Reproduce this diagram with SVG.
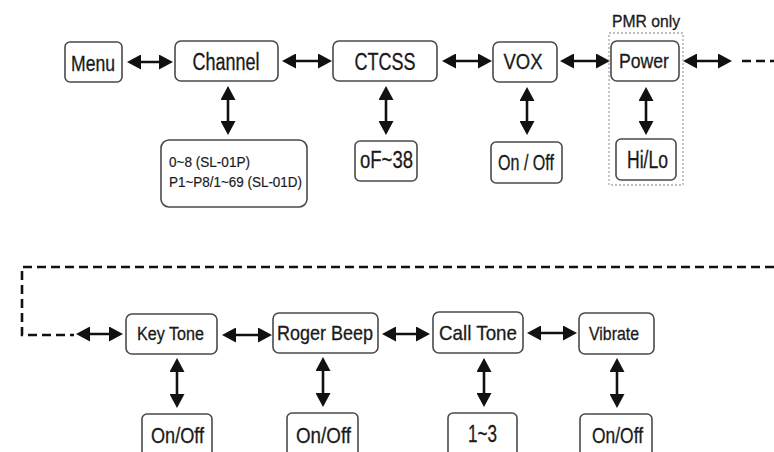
<svg xmlns="http://www.w3.org/2000/svg" width="774" height="452" viewBox="0 0 774 452">
<style>
.box{fill:#fff;stroke:#4a4a4a;stroke-width:1.6}
.t{font-family:"Liberation Sans",Arial,sans-serif;fill:#1a1a1a;text-anchor:middle;stroke:#1a1a1a;stroke-width:0.3}
.ts{font-family:"Liberation Sans",Arial,sans-serif;fill:#1a1a1a;stroke:#1a1a1a;stroke-width:0.2}
.a{stroke:#111;stroke-width:2.6;fill:none;marker-start:url(#ah);marker-end:url(#ah)}
.d{stroke:#111;stroke-width:2.6;fill:none;stroke-dasharray:9 5}
.pmr{fill:none;stroke:#aaa;stroke-width:1.3;stroke-dasharray:2 2}
</style>
<defs>
<marker id="ah" viewBox="0 0 14 15" refX="10" refY="7.5" markerWidth="14" markerHeight="15" markerUnits="userSpaceOnUse" orient="auto-start-reverse">
<path d="M0,0 L14,7.5 L0,15 Z" fill="#111"/>
</marker>
</defs>
<rect width="774" height="452" fill="#fff"/>

<g id="connectors">
<line class="a" x1="131" y1="62" x2="169" y2="62"/>
<line class="a" x1="286" y1="61" x2="328" y2="61"/>
<line class="a" x1="446" y1="61" x2="488" y2="61"/>
<line class="a" x1="564" y1="61" x2="606" y2="61"/>
<line class="a" x1="687" y1="61" x2="728" y2="61"/>
<line class="d" x1="742" y1="61" x2="774" y2="61"/>
<line class="a" x1="228" y1="90" x2="228" y2="131"/>
<line class="a" x1="386" y1="90" x2="386" y2="131"/>
<line class="a" x1="527" y1="91" x2="527" y2="131"/>
<line class="a" x1="646" y1="91" x2="646" y2="131"/>
<path class="d" d="M774,267 H22 V335 H74"/>
<line class="a" x1="80" y1="334" x2="119" y2="334"/>
<line class="a" x1="226" y1="335" x2="268" y2="335"/>
<line class="a" x1="386" y1="334" x2="426" y2="334"/>
<line class="a" x1="531" y1="333" x2="573" y2="333"/>
<line class="a" x1="177" y1="362" x2="177" y2="404"/>
<line class="a" x1="323" y1="361" x2="323" y2="403"/>
<line class="a" x1="484" y1="362" x2="484" y2="403"/>
<line class="a" x1="617" y1="362" x2="617" y2="404"/>
</g>

<g id="pmr-only">
<rect class="pmr" x="609" y="33" width="74" height="152"/>
<text class="t" x="646" y="27" font-size="17" textLength="68" lengthAdjust="spacingAndGlyphs">PMR only</text>
</g>

<g id="menu"><rect class="box" x="65" y="42" width="57" height="40" rx="5"/><text class="t" x="93" y="71" font-size="22" textLength="44" lengthAdjust="spacingAndGlyphs">Menu</text></g>
<g id="channel"><rect class="box" x="175" y="41" width="103" height="40" rx="6"/><text class="t" x="226" y="70" font-size="23" textLength="67" lengthAdjust="spacingAndGlyphs">Channel</text></g>
<g id="ctcss"><rect class="box" x="333" y="41" width="104" height="40" rx="6"/><text class="t" x="385" y="70" font-size="23" textLength="61" lengthAdjust="spacingAndGlyphs">CTCSS</text></g>
<g id="vox"><rect class="box" x="493" y="42" width="64" height="40" rx="6"/><text class="t" x="523" y="69" font-size="22" textLength="39" lengthAdjust="spacingAndGlyphs">VOX</text></g>
<g id="power"><rect class="box" x="611" y="41" width="68" height="40" rx="6"/><text class="t" x="644" y="68" font-size="21" textLength="50" lengthAdjust="spacingAndGlyphs">Power</text></g>

<g id="channel-range"><rect class="box" x="161" y="140" width="146" height="67" rx="8"/>
<text class="ts" x="169" y="167" font-size="15" textLength="81" lengthAdjust="spacingAndGlyphs">0~8 (SL-01P)</text>
<text class="ts" x="169" y="187" font-size="15" textLength="133" lengthAdjust="spacingAndGlyphs">P1~P8/1~69 (SL-01D)</text></g>
<g id="ctcss-range"><rect class="box" x="355" y="141" width="62" height="40" rx="5"/><text class="t" x="386.5" y="168" font-size="24" textLength="53" lengthAdjust="spacingAndGlyphs">oF~38</text></g>
<g id="vox-onoff"><rect class="box" x="491" y="142" width="71" height="41" rx="5"/><text class="t" x="526" y="170" font-size="22" textLength="56" lengthAdjust="spacingAndGlyphs">On / Off</text></g>
<g id="power-hilo"><rect class="box" x="616" y="139" width="60" height="41" rx="5"/><text class="t" x="647.5" y="168" font-size="23" textLength="41" lengthAdjust="spacingAndGlyphs">Hi/Lo</text></g>

<g id="key-tone"><rect class="box" x="126" y="314" width="91" height="40" rx="6"/><text class="t" x="170.5" y="340" font-size="18" textLength="67" lengthAdjust="spacingAndGlyphs">Key Tone</text></g>
<g id="roger-beep"><rect class="box" x="273" y="313" width="105" height="40" rx="6"/><text class="t" x="325" y="340" font-size="21" textLength="96" lengthAdjust="spacingAndGlyphs">Roger Beep</text></g>
<g id="call-tone"><rect class="box" x="433" y="312" width="90" height="41" rx="6"/><text class="t" x="478" y="340" font-size="21" textLength="78" lengthAdjust="spacingAndGlyphs">Call Tone</text></g>
<g id="vibrate"><rect class="box" x="579" y="313" width="75" height="41" rx="6"/><text class="t" x="614" y="340" font-size="19" textLength="50" lengthAdjust="spacingAndGlyphs">Vibrate</text></g>

<g id="key-tone-onoff"><rect class="box" x="142" y="414" width="70" height="50" rx="5"/><text class="t" x="177.5" y="443" font-size="22" textLength="53" lengthAdjust="spacingAndGlyphs">On/Off</text></g>
<g id="roger-beep-onoff"><rect class="box" x="287" y="413" width="71" height="50" rx="5"/><text class="t" x="323.5" y="443" font-size="22" textLength="55" lengthAdjust="spacingAndGlyphs">On/Off</text></g>
<g id="call-tone-range"><rect class="box" x="448" y="413" width="69" height="50" rx="5"/><text class="t" x="482.5" y="442" font-size="23" textLength="29" lengthAdjust="spacingAndGlyphs">1~3</text></g>
<g id="vibrate-onoff"><rect class="box" x="580" y="414" width="72" height="50" rx="5"/><text class="t" x="617.5" y="443" font-size="22" textLength="51" lengthAdjust="spacingAndGlyphs">On/Off</text></g>
</svg>
